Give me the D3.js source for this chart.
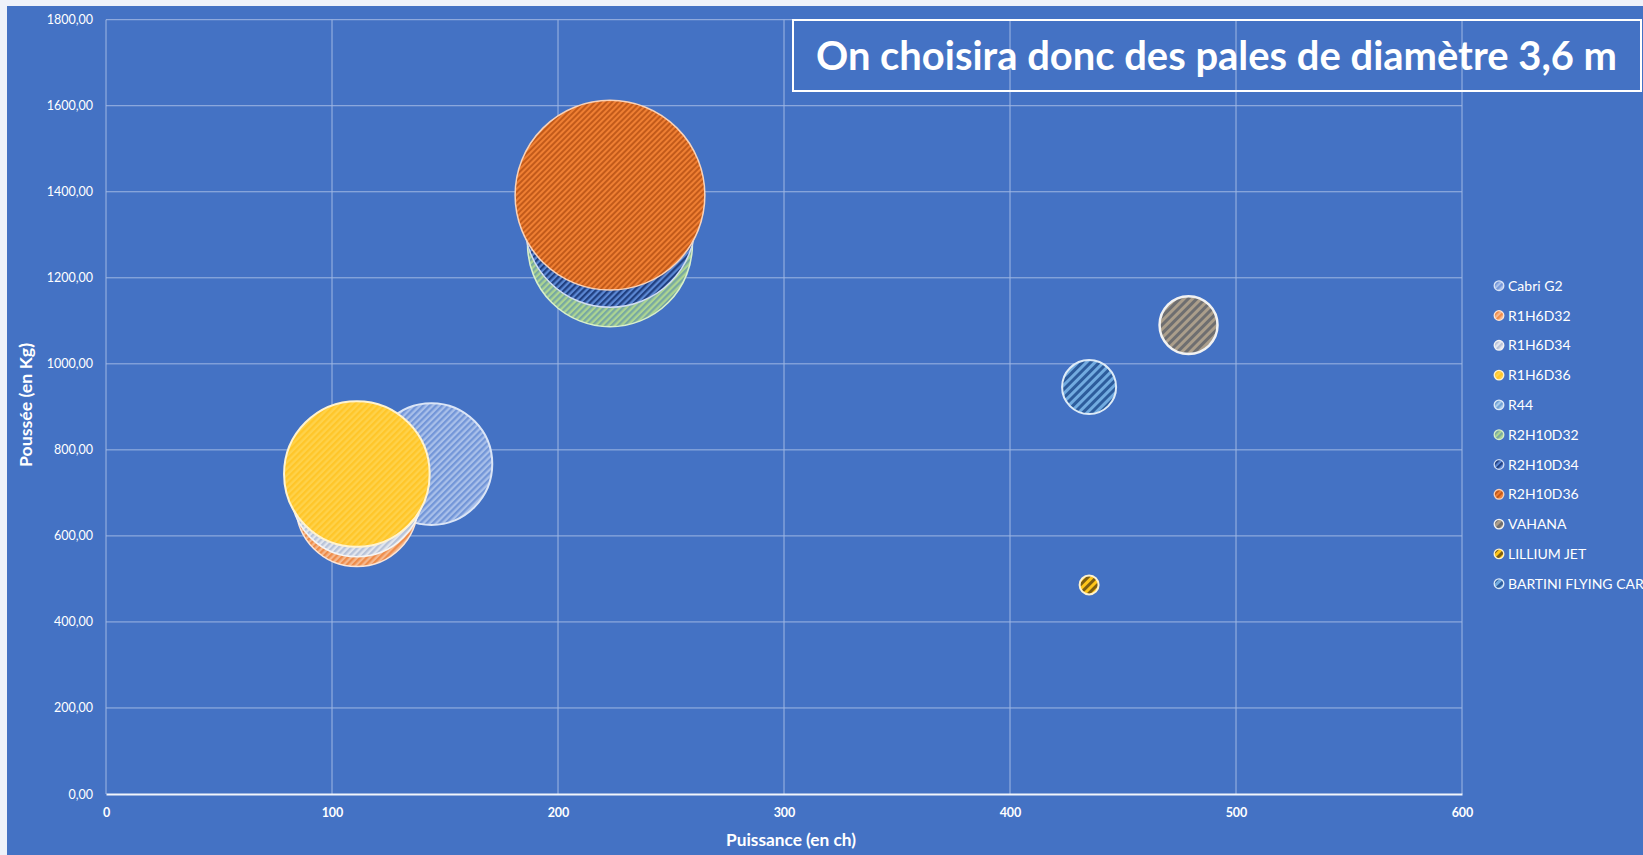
<!DOCTYPE html>
<html>
<head>
<meta charset="utf-8">
<script src="https://cdn.jsdelivr.net/npm/d3@7"></script>
<style>
html,body{margin:0;padding:0;background:#eef2fa;}
svg{display:block;}
text{font-family:Lato,"Open Sans",sans-serif;}
</style>
</head>
<body>
<svg id="chart" width="1643" height="855"></svg>
<script>
// ---- Data ----
const series = ["Cabri G2","R1H6D32","R1H6D34","R1H6D36","R44","R2H10D32","R2H10D34","R2H10D36","VAHANA","LILLIUM JET","BARTINI FLYING CAR"];
const puissance = [144, 111, 111, 111, 225, 223, 223, 223, 479, 435, 435];       // ch
const poussee   = [767, 670, 705, 744, 1134, 1278, 1330, 1392, 1090, 486, 946]; // kg
const bubbleSize = [37, 37, 43.5, 53, 3, 68, 73, 90, 8.4, 0.9, 7.3];
const xTicks = [0, 100, 200, 300, 400, 500, 600];
const yTicks = [0, 200, 400, 600, 800, 1000, 1200, 1400, 1600, 1800];
const title = "On choisira donc des pales de diamètre 3,6 m";
const xTitle = "Puissance (en ch)";
const yTitle = "Poussée (en Kg)";

// ---- Styles (base, stripe, stroke, stroke width, stripe period) ----
const styles = [
  {base:"#a9c0ea", stripe:"#7396d8", stroke:"#dbe5f6", sw:2, p:4.5},
  {base:"#f6b98e", stripe:"#ee8c4a", stroke:"#fde5d5", sw:1.5, p:4.5},
  {base:"#e2e6ee", stripe:"#b8c3d8", stroke:"#f4f4f4", sw:1.5, p:4.5},
  {base:"#ffd24a", stripe:"#ffc629", stroke:"#fff3cf", sw:2, p:4.5},
  {base:"#a8cbea", stripe:"#6fa0d4", stroke:"#deebf7", sw:1.5, p:4.5},
  {base:"#acd592", stripe:"#78a8a2", stroke:"#d8efca", sw:1.5, p:4.5},
  {base:"#5c88d4", stripe:"#203f80", stroke:"#cfdcf2", sw:1.5, p:4.5},
  {base:"#ef7f33", stripe:"#c25a1a", stroke:"#f9d2b8", sw:1.5, p:4},
  {base:"#ab9e8b", stripe:"#6e6e70", stroke:"#f2f2f2", sw:2.5, p:6},
  {base:"#ffc61a", stripe:"#7d5e12", stroke:"#fff2cc", sw:2, p:6},
  {base:"#72abe0", stripe:"#2d5c9c", stroke:"#deebf7", sw:2, p:6}
];

const svg = d3.select("#chart");
const W = 1643, H = 855;
const chartBlue = "#4472c4";
svg.append("rect").attr("x",0).attr("y",0).attr("width",W).attr("height",H).attr("fill","#eef2fa");
svg.append("rect").attr("x",7).attr("y",6).attr("width",W-7).attr("height",H-6).attr("fill",chartBlue);

const plot = {left:106, right:1462, top:19.7, bottom:794};
const x = d3.scaleLinear().domain([0,600]).range([plot.left, plot.right]);
const y = d3.scaleLinear().domain([0,1800]).range([plot.bottom, plot.top]);
const r = d3.scaleSqrt().domain([0,100]).range([0,100]);

// patterns
const defs = svg.append("defs");
styles.forEach((s,i)=>{
  const pat = defs.append("pattern").attr("id","pat"+i)
    .attr("patternUnits","userSpaceOnUse").attr("width",s.p).attr("height",s.p)
    .attr("patternTransform","rotate(45)");
  pat.append("rect").attr("width",s.p).attr("height",s.p).attr("fill",s.base);
  pat.append("rect").attr("x",0).attr("y",0).attr("width",s.p/2).attr("height",s.p).attr("fill",s.stripe);
});

// gridlines
const grid = svg.append("g");
grid.selectAll("line.h").data(yTicks.filter(d=>d>0)).join("line")
  .attr("x1",plot.left).attr("x2",plot.right)
  .attr("y1",d=>y(d)).attr("y2",d=>y(d))
  .attr("stroke","#9fb7e3").attr("stroke-width",1);
grid.selectAll("line.v").data(xTicks).join("line")
  .attr("y1",plot.top).attr("y2",plot.bottom)
  .attr("x1",d=>x(d)).attr("x2",d=>x(d))
  .attr("stroke","#9fb7e3").attr("stroke-width",1);

// x axis
const xAxis = d3.axisBottom(x).tickValues(xTicks).tickSize(0).tickPadding(14).tickFormat(d3.format("d"));
const gx = svg.append("g").attr("transform",`translate(0,${plot.bottom})`).call(xAxis);
gx.select(".domain").attr("stroke","#f2f5fb").attr("stroke-width",2);
gx.selectAll("text").attr("fill","#ffffff").attr("font-size",12.5).attr("font-weight","bold")
  .attr("font-family","Lato, sans-serif");

// y axis
const fmtY = v => d3.format(".2f")(v).replace(".",",");
const yAxis = d3.axisLeft(y).tickValues(yTicks).tickSize(0).tickPadding(13).tickFormat(fmtY);
const gy = svg.append("g").attr("transform",`translate(${plot.left},0)`).call(yAxis);
gy.select(".domain").remove();
gy.selectAll("text").attr("fill","#ffffff").attr("font-size",12.5)
  .attr("font-family","Lato, sans-serif");

// axis titles
svg.append("text").attr("x",791).attr("y",846).attr("text-anchor","middle")
  .attr("fill","#fff").attr("font-size",17).attr("font-weight","bold")
  .attr("textLength",130).attr("lengthAdjust","spacingAndGlyphs").text(xTitle);
svg.append("text").attr("transform","translate(32,405) rotate(-90)").attr("text-anchor","middle")
  .attr("fill","#fff").attr("font-size",17).attr("font-weight","bold")
  .attr("textLength",124).attr("lengthAdjust","spacingAndGlyphs").text(yTitle);

// bubbles
const data = series.map((name,i)=>({name, px:puissance[i], py:poussee[i], size:bubbleSize[i], i}));
svg.append("g").selectAll("circle").data(data).join("circle")
  .attr("cx",d=>x(d.px)).attr("cy",d=>y(d.py))
  .attr("r",d=>r(d.size))
  .attr("fill",d=>`url(#pat${d.i})`)
  .attr("stroke",d=>styles[d.i].stroke).attr("stroke-width",d=>styles[d.i].sw);

// title box
svg.append("rect").attr("x",793).attr("y",20).attr("width",848).attr("height",71)
  .attr("fill","none").attr("stroke","#ffffff").attr("stroke-width",2);
svg.append("text").attr("x",1216.5).attr("y",70).attr("text-anchor","middle")
  .attr("fill","#fff").attr("font-size",40).attr("font-weight","bold")
  .attr("textLength",801).attr("lengthAdjust","spacingAndGlyphs").text(title);

// legend
const leg = svg.append("g").selectAll("g").data(data).join("g")
  .attr("transform",(d,i)=>`translate(1499,${285.7 + i*29.8})`);
leg.append("circle").attr("r",4.8).attr("fill",d=>`url(#pat${d.i})`)
  .attr("stroke",d=>styles[d.i].stroke).attr("stroke-width",1.3);
leg.append("text").attr("x",9).attr("y",5).attr("fill","#fff").attr("font-size",14)
  .text(d=>d.name);
</script>
</body>
</html>
